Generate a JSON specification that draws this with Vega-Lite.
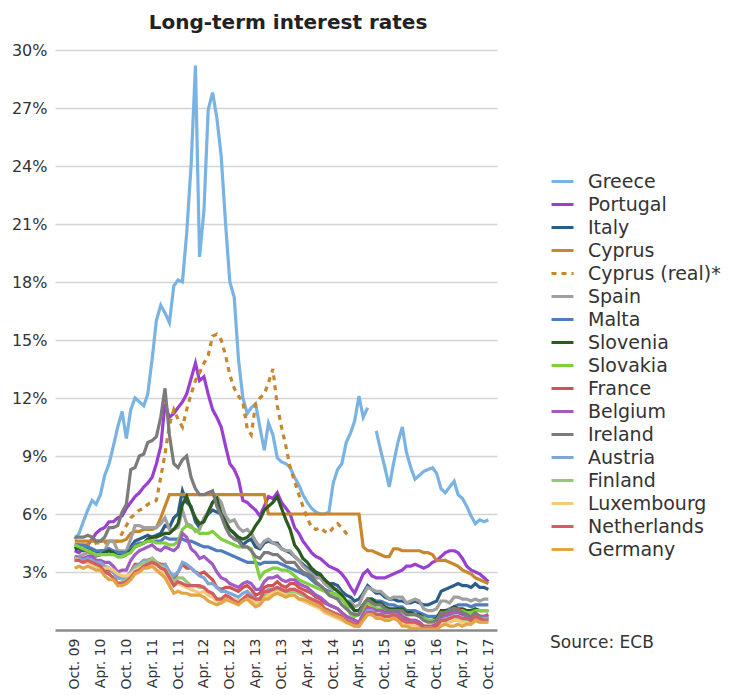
{"$schema":"https://vega.github.io/schema/vega-lite/v6.json","width":442,"height":580,"autosize":{"type":"none"},"padding":{"left":55,"top":50,"right":238,"bottom":65},"background":"white","title":{"text":"Long-term interest rates","fontSize":20,"fontWeight":"bold","font":"DejaVu Sans","color":"#222","offset":9,"dx":12},"config":{"view":{"stroke":null},"font":"DejaVu Sans"},
"data":{"values":[
{"c":"Greece","d":"2009-10","v":4.7},{"c":"Greece","d":"2009-11","v":5.0},{"c":"Greece","d":"2009-12","v":5.6},
{"c":"Greece","d":"2010-01","v":6.2},{"c":"Greece","d":"2010-02","v":6.7},{"c":"Greece","d":"2010-03","v":6.5},{"c":"Greece","d":"2010-04","v":7.0},{"c":"Greece","d":"2010-05","v":8.0},{"c":"Greece","d":"2010-06","v":8.6},{"c":"Greece","d":"2010-07","v":9.5},{"c":"Greece","d":"2010-08","v":10.5},{"c":"Greece","d":"2010-09","v":11.3},{"c":"Greece","d":"2010-10","v":9.9},{"c":"Greece","d":"2010-11","v":11.4},{"c":"Greece","d":"2010-12","v":12.0},
{"c":"Greece","d":"2011-01","v":11.8},{"c":"Greece","d":"2011-02","v":11.6},{"c":"Greece","d":"2011-03","v":12.2},{"c":"Greece","d":"2011-04","v":14.0},{"c":"Greece","d":"2011-05","v":16.0},{"c":"Greece","d":"2011-06","v":16.8},{"c":"Greece","d":"2011-07","v":16.4},{"c":"Greece","d":"2011-08","v":15.9},{"c":"Greece","d":"2011-09","v":17.8},{"c":"Greece","d":"2011-10","v":18.1},{"c":"Greece","d":"2011-11","v":18.0},{"c":"Greece","d":"2011-12","v":20.5},
{"c":"Greece","d":"2012-01","v":24.0},{"c":"Greece","d":"2012-02","v":29.2},{"c":"Greece","d":"2012-03","v":19.3},{"c":"Greece","d":"2012-04","v":21.7},{"c":"Greece","d":"2012-05","v":26.9},{"c":"Greece","d":"2012-06","v":27.8},{"c":"Greece","d":"2012-07","v":26.5},{"c":"Greece","d":"2012-08","v":24.5},{"c":"Greece","d":"2012-09","v":21.0},{"c":"Greece","d":"2012-10","v":18.0},{"c":"Greece","d":"2012-11","v":17.2},{"c":"Greece","d":"2012-12","v":14.0},
{"c":"Greece","d":"2013-01","v":12.0},{"c":"Greece","d":"2013-02","v":11.2},{"c":"Greece","d":"2013-03","v":11.5},{"c":"Greece","d":"2013-04","v":11.7},{"c":"Greece","d":"2013-05","v":10.5},{"c":"Greece","d":"2013-06","v":9.3},{"c":"Greece","d":"2013-07","v":10.7},{"c":"Greece","d":"2013-08","v":10.1},{"c":"Greece","d":"2013-09","v":8.9},{"c":"Greece","d":"2013-10","v":8.7},{"c":"Greece","d":"2013-11","v":8.6},{"c":"Greece","d":"2013-12","v":8.4},
{"c":"Greece","d":"2014-01","v":7.9},{"c":"Greece","d":"2014-02","v":7.5},{"c":"Greece","d":"2014-03","v":7.0},{"c":"Greece","d":"2014-04","v":6.6},{"c":"Greece","d":"2014-05","v":6.3},{"c":"Greece","d":"2014-06","v":6.1},{"c":"Greece","d":"2014-07","v":6.0},{"c":"Greece","d":"2014-08","v":6.0},{"c":"Greece","d":"2014-09","v":6.1},{"c":"Greece","d":"2014-10","v":7.6},{"c":"Greece","d":"2014-11","v":8.3},{"c":"Greece","d":"2014-12","v":8.6},
{"c":"Greece","d":"2015-01","v":9.7},{"c":"Greece","d":"2015-02","v":10.2},{"c":"Greece","d":"2015-03","v":10.8},{"c":"Greece","d":"2015-04","v":12.1},{"c":"Greece","d":"2015-05","v":11.0},{"c":"Greece","d":"2015-06","v":11.5},{"c":"Greece","d":"2015-07","v":null},{"c":"Greece","d":"2015-08","v":10.3},{"c":"Greece","d":"2015-09","v":9.3},{"c":"Greece","d":"2015-10","v":8.4},{"c":"Greece","d":"2015-11","v":7.4},{"c":"Greece","d":"2015-12","v":8.6},
{"c":"Greece","d":"2016-01","v":9.7},{"c":"Greece","d":"2016-02","v":10.5},{"c":"Greece","d":"2016-03","v":9.2},{"c":"Greece","d":"2016-04","v":8.4},{"c":"Greece","d":"2016-05","v":7.8},{"c":"Greece","d":"2016-06","v":8.0},{"c":"Greece","d":"2016-07","v":8.2},{"c":"Greece","d":"2016-08","v":8.3},{"c":"Greece","d":"2016-09","v":8.4},{"c":"Greece","d":"2016-10","v":8.1},{"c":"Greece","d":"2016-11","v":7.3},{"c":"Greece","d":"2016-12","v":7.1},
{"c":"Greece","d":"2017-01","v":7.4},{"c":"Greece","d":"2017-02","v":7.7},{"c":"Greece","d":"2017-03","v":7.0},{"c":"Greece","d":"2017-04","v":6.8},{"c":"Greece","d":"2017-05","v":6.4},{"c":"Greece","d":"2017-06","v":5.9},{"c":"Greece","d":"2017-07","v":5.5},{"c":"Greece","d":"2017-08","v":5.7},{"c":"Greece","d":"2017-09","v":5.6},{"c":"Greece","d":"2017-10","v":5.7},
{"c":"Portugal","d":"2009-10","v":4.1},{"c":"Portugal","d":"2009-11","v":4.0},{"c":"Portugal","d":"2009-12","v":4.2},
{"c":"Portugal","d":"2010-01","v":4.4},{"c":"Portugal","d":"2010-02","v":4.7},{"c":"Portugal","d":"2010-03","v":5.0},{"c":"Portugal","d":"2010-04","v":5.2},{"c":"Portugal","d":"2010-05","v":5.3},{"c":"Portugal","d":"2010-06","v":5.6},{"c":"Portugal","d":"2010-07","v":5.6},{"c":"Portugal","d":"2010-08","v":5.8},{"c":"Portugal","d":"2010-09","v":5.9},{"c":"Portugal","d":"2010-10","v":6.3},{"c":"Portugal","d":"2010-11","v":6.6},{"c":"Portugal","d":"2010-12","v":6.9},
{"c":"Portugal","d":"2011-01","v":7.1},{"c":"Portugal","d":"2011-02","v":7.4},{"c":"Portugal","d":"2011-03","v":7.6},{"c":"Portugal","d":"2011-04","v":7.9},{"c":"Portugal","d":"2011-05","v":8.6},{"c":"Portugal","d":"2011-06","v":9.5},{"c":"Portugal","d":"2011-07","v":11.7},{"c":"Portugal","d":"2011-08","v":11.0},{"c":"Portugal","d":"2011-09","v":11.2},{"c":"Portugal","d":"2011-10","v":11.5},{"c":"Portugal","d":"2011-11","v":11.8},{"c":"Portugal","d":"2011-12","v":12.2},
{"c":"Portugal","d":"2012-01","v":13.0},{"c":"Portugal","d":"2012-02","v":13.8},{"c":"Portugal","d":"2012-03","v":12.9},{"c":"Portugal","d":"2012-04","v":13.1},{"c":"Portugal","d":"2012-05","v":12.2},{"c":"Portugal","d":"2012-06","v":11.4},{"c":"Portugal","d":"2012-07","v":11.0},{"c":"Portugal","d":"2012-08","v":10.5},{"c":"Portugal","d":"2012-09","v":9.5},{"c":"Portugal","d":"2012-10","v":8.6},{"c":"Portugal","d":"2012-11","v":8.3},{"c":"Portugal","d":"2012-12","v":7.8},
{"c":"Portugal","d":"2013-01","v":6.7},{"c":"Portugal","d":"2013-02","v":6.6},{"c":"Portugal","d":"2013-03","v":6.4},{"c":"Portugal","d":"2013-04","v":6.2},{"c":"Portugal","d":"2013-05","v":5.9},{"c":"Portugal","d":"2013-06","v":6.4},{"c":"Portugal","d":"2013-07","v":6.9},{"c":"Portugal","d":"2013-08","v":6.8},{"c":"Portugal","d":"2013-09","v":7.1},{"c":"Portugal","d":"2013-10","v":6.6},{"c":"Portugal","d":"2013-11","v":6.3},{"c":"Portugal","d":"2013-12","v":6.0},
{"c":"Portugal","d":"2014-01","v":5.3},{"c":"Portugal","d":"2014-02","v":5.0},{"c":"Portugal","d":"2014-03","v":4.6},{"c":"Portugal","d":"2014-04","v":4.3},{"c":"Portugal","d":"2014-05","v":4.0},{"c":"Portugal","d":"2014-06","v":3.8},{"c":"Portugal","d":"2014-07","v":3.7},{"c":"Portugal","d":"2014-08","v":3.5},{"c":"Portugal","d":"2014-09","v":3.3},{"c":"Portugal","d":"2014-10","v":3.2},{"c":"Portugal","d":"2014-11","v":3.1},{"c":"Portugal","d":"2014-12","v":2.9},
{"c":"Portugal","d":"2015-01","v":2.6},{"c":"Portugal","d":"2015-02","v":2.2},{"c":"Portugal","d":"2015-03","v":1.9},{"c":"Portugal","d":"2015-04","v":2.4},{"c":"Portugal","d":"2015-05","v":2.9},{"c":"Portugal","d":"2015-06","v":3.1},{"c":"Portugal","d":"2015-07","v":2.8},{"c":"Portugal","d":"2015-08","v":2.7},{"c":"Portugal","d":"2015-09","v":2.7},{"c":"Portugal","d":"2015-10","v":2.7},{"c":"Portugal","d":"2015-11","v":2.8},{"c":"Portugal","d":"2015-12","v":2.9},
{"c":"Portugal","d":"2016-01","v":3.0},{"c":"Portugal","d":"2016-02","v":3.1},{"c":"Portugal","d":"2016-03","v":3.3},{"c":"Portugal","d":"2016-04","v":3.3},{"c":"Portugal","d":"2016-05","v":3.4},{"c":"Portugal","d":"2016-06","v":3.3},{"c":"Portugal","d":"2016-07","v":3.2},{"c":"Portugal","d":"2016-08","v":3.3},{"c":"Portugal","d":"2016-09","v":3.5},{"c":"Portugal","d":"2016-10","v":3.6},{"c":"Portugal","d":"2016-11","v":3.8},{"c":"Portugal","d":"2016-12","v":4.0},
{"c":"Portugal","d":"2017-01","v":4.1},{"c":"Portugal","d":"2017-02","v":4.1},{"c":"Portugal","d":"2017-03","v":4.0},{"c":"Portugal","d":"2017-04","v":3.7},{"c":"Portugal","d":"2017-05","v":3.3},{"c":"Portugal","d":"2017-06","v":3.1},{"c":"Portugal","d":"2017-07","v":3.0},{"c":"Portugal","d":"2017-08","v":2.9},{"c":"Portugal","d":"2017-09","v":2.7},{"c":"Portugal","d":"2017-10","v":2.5},
{"c":"Italy","d":"2009-10","v":4.2},{"c":"Italy","d":"2009-11","v":4.2},{"c":"Italy","d":"2009-12","v":4.1},
{"c":"Italy","d":"2010-01","v":4.2},{"c":"Italy","d":"2010-02","v":4.1},{"c":"Italy","d":"2010-03","v":4.0},{"c":"Italy","d":"2010-04","v":4.1},{"c":"Italy","d":"2010-05","v":4.1},{"c":"Italy","d":"2010-06","v":4.2},{"c":"Italy","d":"2010-07","v":4.0},{"c":"Italy","d":"2010-08","v":3.9},{"c":"Italy","d":"2010-09","v":4.0},{"c":"Italy","d":"2010-10","v":4.0},{"c":"Italy","d":"2010-11","v":4.3},{"c":"Italy","d":"2010-12","v":4.6},
{"c":"Italy","d":"2011-01","v":4.7},{"c":"Italy","d":"2011-02","v":4.8},{"c":"Italy","d":"2011-03","v":4.9},{"c":"Italy","d":"2011-04","v":4.8},{"c":"Italy","d":"2011-05","v":4.9},{"c":"Italy","d":"2011-06","v":5.0},{"c":"Italy","d":"2011-07","v":5.4},{"c":"Italy","d":"2011-08","v":5.3},{"c":"Italy","d":"2011-09","v":5.8},{"c":"Italy","d":"2011-10","v":6.0},{"c":"Italy","d":"2011-11","v":7.2},{"c":"Italy","d":"2011-12","v":6.6},
{"c":"Italy","d":"2012-01","v":6.4},{"c":"Italy","d":"2012-02","v":5.6},{"c":"Italy","d":"2012-03","v":5.3},{"c":"Italy","d":"2012-04","v":5.7},{"c":"Italy","d":"2012-05","v":6.0},{"c":"Italy","d":"2012-06","v":6.2},{"c":"Italy","d":"2012-07","v":6.1},{"c":"Italy","d":"2012-08","v":6.0},{"c":"Italy","d":"2012-09","v":5.4},{"c":"Italy","d":"2012-10","v":5.2},{"c":"Italy","d":"2012-11","v":5.0},{"c":"Italy","d":"2012-12","v":4.7},
{"c":"Italy","d":"2013-01","v":4.4},{"c":"Italy","d":"2013-02","v":4.6},{"c":"Italy","d":"2013-03","v":4.7},{"c":"Italy","d":"2013-04","v":4.3},{"c":"Italy","d":"2013-05","v":4.2},{"c":"Italy","d":"2013-06","v":4.5},{"c":"Italy","d":"2013-07","v":4.6},{"c":"Italy","d":"2013-08","v":4.5},{"c":"Italy","d":"2013-09","v":4.5},{"c":"Italy","d":"2013-10","v":4.2},{"c":"Italy","d":"2013-11","v":4.1},{"c":"Italy","d":"2013-12","v":4.0},
{"c":"Italy","d":"2014-01","v":3.8},{"c":"Italy","d":"2014-02","v":3.6},{"c":"Italy","d":"2014-03","v":3.4},{"c":"Italy","d":"2014-04","v":3.2},{"c":"Italy","d":"2014-05","v":3.1},{"c":"Italy","d":"2014-06","v":2.9},{"c":"Italy","d":"2014-07","v":2.8},{"c":"Italy","d":"2014-08","v":2.6},{"c":"Italy","d":"2014-09","v":2.4},{"c":"Italy","d":"2014-10","v":2.4},{"c":"Italy","d":"2014-11","v":2.3},{"c":"Italy","d":"2014-12","v":2.0},
{"c":"Italy","d":"2015-01","v":1.8},{"c":"Italy","d":"2015-02","v":1.7},{"c":"Italy","d":"2015-03","v":1.5},{"c":"Italy","d":"2015-04","v":1.6},{"c":"Italy","d":"2015-05","v":1.9},{"c":"Italy","d":"2015-06","v":2.3},{"c":"Italy","d":"2015-07","v":2.1},{"c":"Italy","d":"2015-08","v":1.9},{"c":"Italy","d":"2015-09","v":1.9},{"c":"Italy","d":"2015-10","v":1.7},{"c":"Italy","d":"2015-11","v":1.6},{"c":"Italy","d":"2015-12","v":1.6},
{"c":"Italy","d":"2016-01","v":1.5},{"c":"Italy","d":"2016-02","v":1.5},{"c":"Italy","d":"2016-03","v":1.4},{"c":"Italy","d":"2016-04","v":1.4},{"c":"Italy","d":"2016-05","v":1.5},{"c":"Italy","d":"2016-06","v":1.4},{"c":"Italy","d":"2016-07","v":1.3},{"c":"Italy","d":"2016-08","v":1.3},{"c":"Italy","d":"2016-09","v":1.4},{"c":"Italy","d":"2016-10","v":1.5},{"c":"Italy","d":"2016-11","v":2.0},{"c":"Italy","d":"2016-12","v":2.1},
{"c":"Italy","d":"2017-01","v":2.2},{"c":"Italy","d":"2017-02","v":2.3},{"c":"Italy","d":"2017-03","v":2.4},{"c":"Italy","d":"2017-04","v":2.3},{"c":"Italy","d":"2017-05","v":2.3},{"c":"Italy","d":"2017-06","v":2.2},{"c":"Italy","d":"2017-07","v":2.4},{"c":"Italy","d":"2017-08","v":2.2},{"c":"Italy","d":"2017-09","v":2.2},{"c":"Italy","d":"2017-10","v":2.1},
{"c":"Cyprus","d":"2009-10","v":4.6},{"c":"Cyprus","d":"2009-11","v":4.6},{"c":"Cyprus","d":"2009-12","v":4.6},
{"c":"Cyprus","d":"2010-01","v":4.6},{"c":"Cyprus","d":"2010-02","v":4.6},{"c":"Cyprus","d":"2010-03","v":4.6},{"c":"Cyprus","d":"2010-04","v":4.6},{"c":"Cyprus","d":"2010-05","v":4.6},{"c":"Cyprus","d":"2010-06","v":4.6},{"c":"Cyprus","d":"2010-07","v":4.6},{"c":"Cyprus","d":"2010-08","v":4.6},{"c":"Cyprus","d":"2010-09","v":4.6},{"c":"Cyprus","d":"2010-10","v":4.7},{"c":"Cyprus","d":"2010-11","v":5.0},{"c":"Cyprus","d":"2010-12","v":5.1},
{"c":"Cyprus","d":"2011-01","v":5.1},{"c":"Cyprus","d":"2011-02","v":5.2},{"c":"Cyprus","d":"2011-03","v":5.2},{"c":"Cyprus","d":"2011-04","v":5.2},{"c":"Cyprus","d":"2011-05","v":5.3},{"c":"Cyprus","d":"2011-06","v":5.8},{"c":"Cyprus","d":"2011-07","v":6.4},{"c":"Cyprus","d":"2011-08","v":7.0},{"c":"Cyprus","d":"2011-09","v":7.0},{"c":"Cyprus","d":"2011-10","v":7.0},{"c":"Cyprus","d":"2011-11","v":7.0},{"c":"Cyprus","d":"2011-12","v":7.0},
{"c":"Cyprus","d":"2012-01","v":7.0},{"c":"Cyprus","d":"2012-02","v":7.0},{"c":"Cyprus","d":"2012-03","v":7.0},{"c":"Cyprus","d":"2012-04","v":7.0},{"c":"Cyprus","d":"2012-05","v":7.0},{"c":"Cyprus","d":"2012-06","v":7.0},{"c":"Cyprus","d":"2012-07","v":7.0},{"c":"Cyprus","d":"2012-08","v":7.0},{"c":"Cyprus","d":"2012-09","v":7.0},{"c":"Cyprus","d":"2012-10","v":7.0},{"c":"Cyprus","d":"2012-11","v":7.0},{"c":"Cyprus","d":"2012-12","v":7.0},
{"c":"Cyprus","d":"2013-01","v":7.0},{"c":"Cyprus","d":"2013-02","v":7.0},{"c":"Cyprus","d":"2013-03","v":7.0},{"c":"Cyprus","d":"2013-04","v":7.0},{"c":"Cyprus","d":"2013-05","v":7.0},{"c":"Cyprus","d":"2013-06","v":7.0},{"c":"Cyprus","d":"2013-07","v":6.0},{"c":"Cyprus","d":"2013-08","v":6.0},{"c":"Cyprus","d":"2013-09","v":6.0},{"c":"Cyprus","d":"2013-10","v":6.0},{"c":"Cyprus","d":"2013-11","v":6.0},{"c":"Cyprus","d":"2013-12","v":6.0},
{"c":"Cyprus","d":"2014-01","v":6.0},{"c":"Cyprus","d":"2014-02","v":6.0},{"c":"Cyprus","d":"2014-03","v":6.0},{"c":"Cyprus","d":"2014-04","v":6.0},{"c":"Cyprus","d":"2014-05","v":6.0},{"c":"Cyprus","d":"2014-06","v":6.0},{"c":"Cyprus","d":"2014-07","v":6.0},{"c":"Cyprus","d":"2014-08","v":6.0},{"c":"Cyprus","d":"2014-09","v":6.0},{"c":"Cyprus","d":"2014-10","v":6.0},{"c":"Cyprus","d":"2014-11","v":6.0},{"c":"Cyprus","d":"2014-12","v":6.0},
{"c":"Cyprus","d":"2015-01","v":6.0},{"c":"Cyprus","d":"2015-02","v":6.0},{"c":"Cyprus","d":"2015-03","v":6.0},{"c":"Cyprus","d":"2015-04","v":6.0},{"c":"Cyprus","d":"2015-05","v":4.3},{"c":"Cyprus","d":"2015-06","v":4.1},{"c":"Cyprus","d":"2015-07","v":4.1},{"c":"Cyprus","d":"2015-08","v":4.0},{"c":"Cyprus","d":"2015-09","v":3.9},{"c":"Cyprus","d":"2015-10","v":3.8},{"c":"Cyprus","d":"2015-11","v":3.8},{"c":"Cyprus","d":"2015-12","v":4.2},
{"c":"Cyprus","d":"2016-01","v":4.2},{"c":"Cyprus","d":"2016-02","v":4.1},{"c":"Cyprus","d":"2016-03","v":4.1},{"c":"Cyprus","d":"2016-04","v":4.1},{"c":"Cyprus","d":"2016-05","v":4.1},{"c":"Cyprus","d":"2016-06","v":4.1},{"c":"Cyprus","d":"2016-07","v":4.0},{"c":"Cyprus","d":"2016-08","v":4.0},{"c":"Cyprus","d":"2016-09","v":3.9},{"c":"Cyprus","d":"2016-10","v":3.6},{"c":"Cyprus","d":"2016-11","v":3.6},{"c":"Cyprus","d":"2016-12","v":3.6},
{"c":"Cyprus","d":"2017-01","v":3.5},{"c":"Cyprus","d":"2017-02","v":3.4},{"c":"Cyprus","d":"2017-03","v":3.3},{"c":"Cyprus","d":"2017-04","v":3.1},{"c":"Cyprus","d":"2017-05","v":3.0},{"c":"Cyprus","d":"2017-06","v":2.9},{"c":"Cyprus","d":"2017-07","v":2.7},{"c":"Cyprus","d":"2017-08","v":2.6},{"c":"Cyprus","d":"2017-09","v":2.5},{"c":"Cyprus","d":"2017-10","v":2.4},
{"c":"Cyprus (real)*","d":"2009-10","v":4.4},{"c":"Cyprus (real)*","d":"2009-11","v":4.4},{"c":"Cyprus (real)*","d":"2009-12","v":4.4},
{"c":"Cyprus (real)*","d":"2010-01","v":4.4},{"c":"Cyprus (real)*","d":"2010-02","v":4.4},{"c":"Cyprus (real)*","d":"2010-03","v":4.5},{"c":"Cyprus (real)*","d":"2010-04","v":4.5},{"c":"Cyprus (real)*","d":"2010-05","v":4.5},{"c":"Cyprus (real)*","d":"2010-06","v":4.5},{"c":"Cyprus (real)*","d":"2010-07","v":4.5},{"c":"Cyprus (real)*","d":"2010-08","v":4.6},{"c":"Cyprus (real)*","d":"2010-09","v":5.0},{"c":"Cyprus (real)*","d":"2010-10","v":5.4},{"c":"Cyprus (real)*","d":"2010-11","v":5.8},{"c":"Cyprus (real)*","d":"2010-12","v":6.0},
{"c":"Cyprus (real)*","d":"2011-01","v":6.2},{"c":"Cyprus (real)*","d":"2011-02","v":6.3},{"c":"Cyprus (real)*","d":"2011-03","v":6.5},{"c":"Cyprus (real)*","d":"2011-04","v":6.6},{"c":"Cyprus (real)*","d":"2011-05","v":6.7},{"c":"Cyprus (real)*","d":"2011-06","v":7.9},{"c":"Cyprus (real)*","d":"2011-07","v":9.1},{"c":"Cyprus (real)*","d":"2011-08","v":10.6},{"c":"Cyprus (real)*","d":"2011-09","v":11.4},{"c":"Cyprus (real)*","d":"2011-10","v":10.9},{"c":"Cyprus (real)*","d":"2011-11","v":10.5},{"c":"Cyprus (real)*","d":"2011-12","v":11.4},
{"c":"Cyprus (real)*","d":"2012-01","v":12.2},{"c":"Cyprus (real)*","d":"2012-02","v":12.9},{"c":"Cyprus (real)*","d":"2012-03","v":13.3},{"c":"Cyprus (real)*","d":"2012-04","v":13.8},{"c":"Cyprus (real)*","d":"2012-05","v":14.2},{"c":"Cyprus (real)*","d":"2012-06","v":15.2},{"c":"Cyprus (real)*","d":"2012-07","v":15.3},{"c":"Cyprus (real)*","d":"2012-08","v":15.0},{"c":"Cyprus (real)*","d":"2012-09","v":14.2},{"c":"Cyprus (real)*","d":"2012-10","v":13.2},{"c":"Cyprus (real)*","d":"2012-11","v":12.5},{"c":"Cyprus (real)*","d":"2012-12","v":12.1},
{"c":"Cyprus (real)*","d":"2013-01","v":11.8},{"c":"Cyprus (real)*","d":"2013-02","v":10.4},{"c":"Cyprus (real)*","d":"2013-03","v":10.1},{"c":"Cyprus (real)*","d":"2013-04","v":11.7},{"c":"Cyprus (real)*","d":"2013-05","v":12.0},{"c":"Cyprus (real)*","d":"2013-06","v":12.2},{"c":"Cyprus (real)*","d":"2013-07","v":12.8},{"c":"Cyprus (real)*","d":"2013-08","v":13.5},{"c":"Cyprus (real)*","d":"2013-09","v":11.6},{"c":"Cyprus (real)*","d":"2013-10","v":10.5},{"c":"Cyprus (real)*","d":"2013-11","v":9.5},{"c":"Cyprus (real)*","d":"2013-12","v":8.4},
{"c":"Cyprus (real)*","d":"2014-01","v":7.7},{"c":"Cyprus (real)*","d":"2014-02","v":7.0},{"c":"Cyprus (real)*","d":"2014-03","v":6.4},{"c":"Cyprus (real)*","d":"2014-04","v":5.8},{"c":"Cyprus (real)*","d":"2014-05","v":5.3},{"c":"Cyprus (real)*","d":"2014-06","v":5.2},{"c":"Cyprus (real)*","d":"2014-07","v":5.3},{"c":"Cyprus (real)*","d":"2014-08","v":5.1},{"c":"Cyprus (real)*","d":"2014-09","v":5.0},{"c":"Cyprus (real)*","d":"2014-10","v":5.3},{"c":"Cyprus (real)*","d":"2014-11","v":5.5},{"c":"Cyprus (real)*","d":"2014-12","v":5.3},
{"c":"Cyprus (real)*","d":"2015-01","v":5.0},{"c":"Cyprus (real)*","d":"2015-02","v":4.8},
{"c":"Spain","d":"2009-10","v":3.8},{"c":"Spain","d":"2009-11","v":3.8},{"c":"Spain","d":"2009-12","v":3.9},
{"c":"Spain","d":"2010-01","v":4.0},{"c":"Spain","d":"2010-02","v":3.9},{"c":"Spain","d":"2010-03","v":3.8},{"c":"Spain","d":"2010-04","v":3.9},{"c":"Spain","d":"2010-05","v":4.1},{"c":"Spain","d":"2010-06","v":4.6},{"c":"Spain","d":"2010-07","v":4.6},{"c":"Spain","d":"2010-08","v":4.1},{"c":"Spain","d":"2010-09","v":4.1},{"c":"Spain","d":"2010-10","v":4.1},{"c":"Spain","d":"2010-11","v":4.7},{"c":"Spain","d":"2010-12","v":5.4},
{"c":"Spain","d":"2011-01","v":5.4},{"c":"Spain","d":"2011-02","v":5.3},{"c":"Spain","d":"2011-03","v":5.3},{"c":"Spain","d":"2011-04","v":5.3},{"c":"Spain","d":"2011-05","v":5.3},{"c":"Spain","d":"2011-06","v":5.5},{"c":"Spain","d":"2011-07","v":5.8},{"c":"Spain","d":"2011-08","v":5.2},{"c":"Spain","d":"2011-09","v":5.2},{"c":"Spain","d":"2011-10","v":5.3},{"c":"Spain","d":"2011-11","v":6.2},{"c":"Spain","d":"2011-12","v":5.5},
{"c":"Spain","d":"2012-01","v":5.4},{"c":"Spain","d":"2012-02","v":5.1},{"c":"Spain","d":"2012-03","v":5.2},{"c":"Spain","d":"2012-04","v":5.8},{"c":"Spain","d":"2012-05","v":6.1},{"c":"Spain","d":"2012-06","v":6.6},{"c":"Spain","d":"2012-07","v":6.9},{"c":"Spain","d":"2012-08","v":6.6},{"c":"Spain","d":"2012-09","v":5.9},{"c":"Spain","d":"2012-10","v":5.6},{"c":"Spain","d":"2012-11","v":5.7},{"c":"Spain","d":"2012-12","v":5.3},
{"c":"Spain","d":"2013-01","v":5.1},{"c":"Spain","d":"2013-02","v":5.2},{"c":"Spain","d":"2013-03","v":5.0},{"c":"Spain","d":"2013-04","v":4.6},{"c":"Spain","d":"2013-05","v":4.3},{"c":"Spain","d":"2013-06","v":4.6},{"c":"Spain","d":"2013-07","v":4.7},{"c":"Spain","d":"2013-08","v":4.5},{"c":"Spain","d":"2013-09","v":4.4},{"c":"Spain","d":"2013-10","v":4.2},{"c":"Spain","d":"2013-11","v":4.1},{"c":"Spain","d":"2013-12","v":4.1},
{"c":"Spain","d":"2014-01","v":3.8},{"c":"Spain","d":"2014-02","v":3.6},{"c":"Spain","d":"2014-03","v":3.3},{"c":"Spain","d":"2014-04","v":3.1},{"c":"Spain","d":"2014-05","v":2.9},{"c":"Spain","d":"2014-06","v":2.7},{"c":"Spain","d":"2014-07","v":2.7},{"c":"Spain","d":"2014-08","v":2.4},{"c":"Spain","d":"2014-09","v":2.2},{"c":"Spain","d":"2014-10","v":2.1},{"c":"Spain","d":"2014-11","v":2.1},{"c":"Spain","d":"2014-12","v":1.8},
{"c":"Spain","d":"2015-01","v":1.5},{"c":"Spain","d":"2015-02","v":1.5},{"c":"Spain","d":"2015-03","v":1.2},{"c":"Spain","d":"2015-04","v":1.3},{"c":"Spain","d":"2015-05","v":1.8},{"c":"Spain","d":"2015-06","v":2.2},{"c":"Spain","d":"2015-07","v":2.1},{"c":"Spain","d":"2015-08","v":2.0},{"c":"Spain","d":"2015-09","v":2.0},{"c":"Spain","d":"2015-10","v":1.8},{"c":"Spain","d":"2015-11","v":1.6},{"c":"Spain","d":"2015-12","v":1.7},
{"c":"Spain","d":"2016-01","v":1.7},{"c":"Spain","d":"2016-02","v":1.7},{"c":"Spain","d":"2016-03","v":1.4},{"c":"Spain","d":"2016-04","v":1.5},{"c":"Spain","d":"2016-05","v":1.6},{"c":"Spain","d":"2016-06","v":1.5},{"c":"Spain","d":"2016-07","v":1.1},{"c":"Spain","d":"2016-08","v":1.0},{"c":"Spain","d":"2016-09","v":1.0},{"c":"Spain","d":"2016-10","v":1.1},{"c":"Spain","d":"2016-11","v":1.5},{"c":"Spain","d":"2016-12","v":1.5},
{"c":"Spain","d":"2017-01","v":1.4},{"c":"Spain","d":"2017-02","v":1.7},{"c":"Spain","d":"2017-03","v":1.7},{"c":"Spain","d":"2017-04","v":1.6},{"c":"Spain","d":"2017-05","v":1.6},{"c":"Spain","d":"2017-06","v":1.5},{"c":"Spain","d":"2017-07","v":1.6},{"c":"Spain","d":"2017-08","v":1.5},{"c":"Spain","d":"2017-09","v":1.6},{"c":"Spain","d":"2017-10","v":1.6},
{"c":"Malta","d":"2009-10","v":4.4},{"c":"Malta","d":"2009-11","v":4.4},{"c":"Malta","d":"2009-12","v":4.4},
{"c":"Malta","d":"2010-01","v":4.3},{"c":"Malta","d":"2010-02","v":4.2},{"c":"Malta","d":"2010-03","v":4.1},{"c":"Malta","d":"2010-04","v":4.1},{"c":"Malta","d":"2010-05","v":4.1},{"c":"Malta","d":"2010-06","v":4.2},{"c":"Malta","d":"2010-07","v":4.1},{"c":"Malta","d":"2010-08","v":4.0},{"c":"Malta","d":"2010-09","v":4.0},{"c":"Malta","d":"2010-10","v":4.0},{"c":"Malta","d":"2010-11","v":4.2},{"c":"Malta","d":"2010-12","v":4.4},
{"c":"Malta","d":"2011-01","v":4.5},{"c":"Malta","d":"2011-02","v":4.5},{"c":"Malta","d":"2011-03","v":4.6},{"c":"Malta","d":"2011-04","v":4.6},{"c":"Malta","d":"2011-05","v":4.6},{"c":"Malta","d":"2011-06","v":4.6},{"c":"Malta","d":"2011-07","v":4.8},{"c":"Malta","d":"2011-08","v":4.7},{"c":"Malta","d":"2011-09","v":4.7},{"c":"Malta","d":"2011-10","v":4.7},{"c":"Malta","d":"2011-11","v":4.7},{"c":"Malta","d":"2011-12","v":4.6},
{"c":"Malta","d":"2012-01","v":4.6},{"c":"Malta","d":"2012-02","v":4.5},{"c":"Malta","d":"2012-03","v":4.4},{"c":"Malta","d":"2012-04","v":4.3},{"c":"Malta","d":"2012-05","v":4.3},{"c":"Malta","d":"2012-06","v":4.2},{"c":"Malta","d":"2012-07","v":4.1},{"c":"Malta","d":"2012-08","v":4.1},{"c":"Malta","d":"2012-09","v":4.0},{"c":"Malta","d":"2012-10","v":3.9},{"c":"Malta","d":"2012-11","v":3.8},{"c":"Malta","d":"2012-12","v":3.7},
{"c":"Malta","d":"2013-01","v":3.6},{"c":"Malta","d":"2013-02","v":3.5},{"c":"Malta","d":"2013-03","v":3.5},{"c":"Malta","d":"2013-04","v":3.5},{"c":"Malta","d":"2013-05","v":3.4},{"c":"Malta","d":"2013-06","v":3.5},{"c":"Malta","d":"2013-07","v":3.5},{"c":"Malta","d":"2013-08","v":3.5},{"c":"Malta","d":"2013-09","v":3.5},{"c":"Malta","d":"2013-10","v":3.4},{"c":"Malta","d":"2013-11","v":3.3},{"c":"Malta","d":"2013-12","v":3.2},
{"c":"Malta","d":"2014-01","v":3.1},{"c":"Malta","d":"2014-02","v":3.0},{"c":"Malta","d":"2014-03","v":2.9},{"c":"Malta","d":"2014-04","v":2.8},{"c":"Malta","d":"2014-05","v":2.6},{"c":"Malta","d":"2014-06","v":2.4},{"c":"Malta","d":"2014-07","v":2.3},{"c":"Malta","d":"2014-08","v":2.1},{"c":"Malta","d":"2014-09","v":2.0},{"c":"Malta","d":"2014-10","v":1.9},{"c":"Malta","d":"2014-11","v":1.8},{"c":"Malta","d":"2014-12","v":1.6},
{"c":"Malta","d":"2015-01","v":1.4},{"c":"Malta","d":"2015-02","v":1.2},{"c":"Malta","d":"2015-03","v":1.0},{"c":"Malta","d":"2015-04","v":1.0},{"c":"Malta","d":"2015-05","v":1.3},{"c":"Malta","d":"2015-06","v":1.6},{"c":"Malta","d":"2015-07","v":1.6},{"c":"Malta","d":"2015-08","v":1.5},{"c":"Malta","d":"2015-09","v":1.5},{"c":"Malta","d":"2015-10","v":1.4},{"c":"Malta","d":"2015-11","v":1.3},{"c":"Malta","d":"2015-12","v":1.3},
{"c":"Malta","d":"2016-01","v":1.2},{"c":"Malta","d":"2016-02","v":1.2},{"c":"Malta","d":"2016-03","v":1.0},{"c":"Malta","d":"2016-04","v":1.0},{"c":"Malta","d":"2016-05","v":1.0},{"c":"Malta","d":"2016-06","v":0.9},{"c":"Malta","d":"2016-07","v":0.8},{"c":"Malta","d":"2016-08","v":0.7},{"c":"Malta","d":"2016-09","v":0.7},{"c":"Malta","d":"2016-10","v":0.7},{"c":"Malta","d":"2016-11","v":0.9},{"c":"Malta","d":"2016-12","v":1.0},
{"c":"Malta","d":"2017-01","v":1.1},{"c":"Malta","d":"2017-02","v":1.2},{"c":"Malta","d":"2017-03","v":1.3},{"c":"Malta","d":"2017-04","v":1.3},{"c":"Malta","d":"2017-05","v":1.3},{"c":"Malta","d":"2017-06","v":1.2},{"c":"Malta","d":"2017-07","v":1.3},{"c":"Malta","d":"2017-08","v":1.3},{"c":"Malta","d":"2017-09","v":1.3},{"c":"Malta","d":"2017-10","v":1.3},
{"c":"Slovenia","d":"2009-10","v":4.2},{"c":"Slovenia","d":"2009-11","v":4.3},{"c":"Slovenia","d":"2009-12","v":4.2},
{"c":"Slovenia","d":"2010-01","v":4.1},{"c":"Slovenia","d":"2010-02","v":4.0},{"c":"Slovenia","d":"2010-03","v":3.9},{"c":"Slovenia","d":"2010-04","v":3.9},{"c":"Slovenia","d":"2010-05","v":4.0},{"c":"Slovenia","d":"2010-06","v":4.1},{"c":"Slovenia","d":"2010-07","v":4.0},{"c":"Slovenia","d":"2010-08","v":3.8},{"c":"Slovenia","d":"2010-09","v":3.8},{"c":"Slovenia","d":"2010-10","v":3.9},{"c":"Slovenia","d":"2010-11","v":4.1},{"c":"Slovenia","d":"2010-12","v":4.3},
{"c":"Slovenia","d":"2011-01","v":4.4},{"c":"Slovenia","d":"2011-02","v":4.5},{"c":"Slovenia","d":"2011-03","v":4.7},{"c":"Slovenia","d":"2011-04","v":4.8},{"c":"Slovenia","d":"2011-05","v":4.8},{"c":"Slovenia","d":"2011-06","v":4.9},{"c":"Slovenia","d":"2011-07","v":5.0},{"c":"Slovenia","d":"2011-08","v":5.0},{"c":"Slovenia","d":"2011-09","v":5.2},{"c":"Slovenia","d":"2011-10","v":5.5},{"c":"Slovenia","d":"2011-11","v":6.5},{"c":"Slovenia","d":"2011-12","v":6.9},
{"c":"Slovenia","d":"2012-01","v":6.3},{"c":"Slovenia","d":"2012-02","v":5.8},{"c":"Slovenia","d":"2012-03","v":5.5},{"c":"Slovenia","d":"2012-04","v":5.6},{"c":"Slovenia","d":"2012-05","v":6.1},{"c":"Slovenia","d":"2012-06","v":6.6},{"c":"Slovenia","d":"2012-07","v":6.8},{"c":"Slovenia","d":"2012-08","v":6.0},{"c":"Slovenia","d":"2012-09","v":5.6},{"c":"Slovenia","d":"2012-10","v":5.2},{"c":"Slovenia","d":"2012-11","v":5.0},{"c":"Slovenia","d":"2012-12","v":4.8},
{"c":"Slovenia","d":"2013-01","v":4.7},{"c":"Slovenia","d":"2013-02","v":4.8},{"c":"Slovenia","d":"2013-03","v":5.0},{"c":"Slovenia","d":"2013-04","v":5.4},{"c":"Slovenia","d":"2013-05","v":5.7},{"c":"Slovenia","d":"2013-06","v":6.2},{"c":"Slovenia","d":"2013-07","v":6.4},{"c":"Slovenia","d":"2013-08","v":6.6},{"c":"Slovenia","d":"2013-09","v":6.9},{"c":"Slovenia","d":"2013-10","v":6.3},{"c":"Slovenia","d":"2013-11","v":5.7},{"c":"Slovenia","d":"2013-12","v":5.2},
{"c":"Slovenia","d":"2014-01","v":4.4},{"c":"Slovenia","d":"2014-02","v":4.1},{"c":"Slovenia","d":"2014-03","v":3.7},{"c":"Slovenia","d":"2014-04","v":3.5},{"c":"Slovenia","d":"2014-05","v":3.2},{"c":"Slovenia","d":"2014-06","v":3.0},{"c":"Slovenia","d":"2014-07","v":2.9},{"c":"Slovenia","d":"2014-08","v":2.6},{"c":"Slovenia","d":"2014-09","v":2.4},{"c":"Slovenia","d":"2014-10","v":2.2},{"c":"Slovenia","d":"2014-11","v":2.0},{"c":"Slovenia","d":"2014-12","v":1.8},
{"c":"Slovenia","d":"2015-01","v":1.5},{"c":"Slovenia","d":"2015-02","v":1.3},{"c":"Slovenia","d":"2015-03","v":1.0},{"c":"Slovenia","d":"2015-04","v":1.0},{"c":"Slovenia","d":"2015-05","v":1.3},{"c":"Slovenia","d":"2015-06","v":1.6},{"c":"Slovenia","d":"2015-07","v":1.6},{"c":"Slovenia","d":"2015-08","v":1.4},{"c":"Slovenia","d":"2015-09","v":1.4},{"c":"Slovenia","d":"2015-10","v":1.2},{"c":"Slovenia","d":"2015-11","v":1.1},{"c":"Slovenia","d":"2015-12","v":1.1},
{"c":"Slovenia","d":"2016-01","v":1.1},{"c":"Slovenia","d":"2016-02","v":1.1},{"c":"Slovenia","d":"2016-03","v":0.9},{"c":"Slovenia","d":"2016-04","v":0.9},{"c":"Slovenia","d":"2016-05","v":0.8},{"c":"Slovenia","d":"2016-06","v":0.8},{"c":"Slovenia","d":"2016-07","v":0.6},{"c":"Slovenia","d":"2016-08","v":0.5},{"c":"Slovenia","d":"2016-09","v":0.5},{"c":"Slovenia","d":"2016-10","v":0.6},{"c":"Slovenia","d":"2016-11","v":1.0},{"c":"Slovenia","d":"2016-12","v":1.0},
{"c":"Slovenia","d":"2017-01","v":1.0},{"c":"Slovenia","d":"2017-02","v":1.2},{"c":"Slovenia","d":"2017-03","v":1.1},{"c":"Slovenia","d":"2017-04","v":1.1},{"c":"Slovenia","d":"2017-05","v":1.0},{"c":"Slovenia","d":"2017-06","v":1.0},{"c":"Slovenia","d":"2017-07","v":1.1},{"c":"Slovenia","d":"2017-08","v":1.0},{"c":"Slovenia","d":"2017-09","v":1.0},{"c":"Slovenia","d":"2017-10","v":1.0},
{"c":"Slovakia","d":"2009-10","v":4.4},{"c":"Slovakia","d":"2009-11","v":4.3},{"c":"Slovakia","d":"2009-12","v":4.2},
{"c":"Slovakia","d":"2010-01","v":4.1},{"c":"Slovakia","d":"2010-02","v":4.0},{"c":"Slovakia","d":"2010-03","v":3.9},{"c":"Slovakia","d":"2010-04","v":3.9},{"c":"Slovakia","d":"2010-05","v":3.9},{"c":"Slovakia","d":"2010-06","v":3.9},{"c":"Slovakia","d":"2010-07","v":3.9},{"c":"Slovakia","d":"2010-08","v":3.8},{"c":"Slovakia","d":"2010-09","v":3.8},{"c":"Slovakia","d":"2010-10","v":3.9},{"c":"Slovakia","d":"2010-11","v":4.0},{"c":"Slovakia","d":"2010-12","v":4.3},
{"c":"Slovakia","d":"2011-01","v":4.4},{"c":"Slovakia","d":"2011-02","v":4.5},{"c":"Slovakia","d":"2011-03","v":4.6},{"c":"Slovakia","d":"2011-04","v":4.6},{"c":"Slovakia","d":"2011-05","v":4.5},{"c":"Slovakia","d":"2011-06","v":4.5},{"c":"Slovakia","d":"2011-07","v":4.5},{"c":"Slovakia","d":"2011-08","v":4.4},{"c":"Slovakia","d":"2011-09","v":4.4},{"c":"Slovakia","d":"2011-10","v":4.6},{"c":"Slovakia","d":"2011-11","v":5.2},{"c":"Slovakia","d":"2011-12","v":5.4},
{"c":"Slovakia","d":"2012-01","v":5.3},{"c":"Slovakia","d":"2012-02","v":5.2},{"c":"Slovakia","d":"2012-03","v":5.0},{"c":"Slovakia","d":"2012-04","v":5.0},{"c":"Slovakia","d":"2012-05","v":5.0},{"c":"Slovakia","d":"2012-06","v":5.1},{"c":"Slovakia","d":"2012-07","v":4.9},{"c":"Slovakia","d":"2012-08","v":4.7},{"c":"Slovakia","d":"2012-09","v":4.6},{"c":"Slovakia","d":"2012-10","v":4.5},{"c":"Slovakia","d":"2012-11","v":4.4},{"c":"Slovakia","d":"2012-12","v":4.3},
{"c":"Slovakia","d":"2013-01","v":4.3},{"c":"Slovakia","d":"2013-02","v":4.3},{"c":"Slovakia","d":"2013-03","v":4.2},{"c":"Slovakia","d":"2013-04","v":3.5},{"c":"Slovakia","d":"2013-05","v":2.7},{"c":"Slovakia","d":"2013-06","v":3.0},{"c":"Slovakia","d":"2013-07","v":3.1},{"c":"Slovakia","d":"2013-08","v":3.2},{"c":"Slovakia","d":"2013-09","v":3.2},{"c":"Slovakia","d":"2013-10","v":3.1},{"c":"Slovakia","d":"2013-11","v":3.1},{"c":"Slovakia","d":"2013-12","v":3.0},
{"c":"Slovakia","d":"2014-01","v":2.8},{"c":"Slovakia","d":"2014-02","v":2.6},{"c":"Slovakia","d":"2014-03","v":2.5},{"c":"Slovakia","d":"2014-04","v":2.4},{"c":"Slovakia","d":"2014-05","v":2.3},{"c":"Slovakia","d":"2014-06","v":2.2},{"c":"Slovakia","d":"2014-07","v":2.1},{"c":"Slovakia","d":"2014-08","v":2.0},{"c":"Slovakia","d":"2014-09","v":1.9},{"c":"Slovakia","d":"2014-10","v":1.9},{"c":"Slovakia","d":"2014-11","v":1.8},{"c":"Slovakia","d":"2014-12","v":1.6},
{"c":"Slovakia","d":"2015-01","v":1.3},{"c":"Slovakia","d":"2015-02","v":0.8},{"c":"Slovakia","d":"2015-03","v":0.7},{"c":"Slovakia","d":"2015-04","v":0.8},{"c":"Slovakia","d":"2015-05","v":1.1},{"c":"Slovakia","d":"2015-06","v":1.4},{"c":"Slovakia","d":"2015-07","v":1.3},{"c":"Slovakia","d":"2015-08","v":1.1},{"c":"Slovakia","d":"2015-09","v":1.1},{"c":"Slovakia","d":"2015-10","v":1.0},{"c":"Slovakia","d":"2015-11","v":0.9},{"c":"Slovakia","d":"2015-12","v":0.9},
{"c":"Slovakia","d":"2016-01","v":0.9},{"c":"Slovakia","d":"2016-02","v":0.9},{"c":"Slovakia","d":"2016-03","v":0.8},{"c":"Slovakia","d":"2016-04","v":0.8},{"c":"Slovakia","d":"2016-05","v":0.8},{"c":"Slovakia","d":"2016-06","v":0.7},{"c":"Slovakia","d":"2016-07","v":0.6},{"c":"Slovakia","d":"2016-08","v":0.5},{"c":"Slovakia","d":"2016-09","v":0.5},{"c":"Slovakia","d":"2016-10","v":0.5},{"c":"Slovakia","d":"2016-11","v":0.8},{"c":"Slovakia","d":"2016-12","v":0.9},
{"c":"Slovakia","d":"2017-01","v":1.0},{"c":"Slovakia","d":"2017-02","v":1.1},{"c":"Slovakia","d":"2017-03","v":1.0},{"c":"Slovakia","d":"2017-04","v":1.0},{"c":"Slovakia","d":"2017-05","v":0.9},{"c":"Slovakia","d":"2017-06","v":0.9},{"c":"Slovakia","d":"2017-07","v":1.0},{"c":"Slovakia","d":"2017-08","v":1.0},{"c":"Slovakia","d":"2017-09","v":1.0},{"c":"Slovakia","d":"2017-10","v":1.0},
{"c":"France","d":"2009-10","v":3.6},{"c":"France","d":"2009-11","v":3.6},{"c":"France","d":"2009-12","v":3.5},
{"c":"France","d":"2010-01","v":3.6},{"c":"France","d":"2010-02","v":3.5},{"c":"France","d":"2010-03","v":3.5},{"c":"France","d":"2010-04","v":3.4},{"c":"France","d":"2010-05","v":3.1},{"c":"France","d":"2010-06","v":3.1},{"c":"France","d":"2010-07","v":3.0},{"c":"France","d":"2010-08","v":2.7},{"c":"France","d":"2010-09","v":2.7},{"c":"France","d":"2010-10","v":2.7},{"c":"France","d":"2010-11","v":3.0},{"c":"France","d":"2010-12","v":3.4},
{"c":"France","d":"2011-01","v":3.4},{"c":"France","d":"2011-02","v":3.6},{"c":"France","d":"2011-03","v":3.6},{"c":"France","d":"2011-04","v":3.7},{"c":"France","d":"2011-05","v":3.5},{"c":"France","d":"2011-06","v":3.4},{"c":"France","d":"2011-07","v":3.4},{"c":"France","d":"2011-08","v":3.0},{"c":"France","d":"2011-09","v":2.6},{"c":"France","d":"2011-10","v":3.0},{"c":"France","d":"2011-11","v":3.4},{"c":"France","d":"2011-12","v":3.2},
{"c":"France","d":"2012-01","v":3.2},{"c":"France","d":"2012-02","v":3.0},{"c":"France","d":"2012-03","v":2.9},{"c":"France","d":"2012-04","v":3.0},{"c":"France","d":"2012-05","v":2.8},{"c":"France","d":"2012-06","v":2.6},{"c":"France","d":"2012-07","v":2.2},{"c":"France","d":"2012-08","v":2.1},{"c":"France","d":"2012-09","v":2.2},{"c":"France","d":"2012-10","v":2.2},{"c":"France","d":"2012-11","v":2.1},{"c":"France","d":"2012-12","v":2.0},
{"c":"France","d":"2013-01","v":2.2},{"c":"France","d":"2013-02","v":2.3},{"c":"France","d":"2013-03","v":2.1},{"c":"France","d":"2013-04","v":1.8},{"c":"France","d":"2013-05","v":1.9},{"c":"France","d":"2013-06","v":2.2},{"c":"France","d":"2013-07","v":2.3},{"c":"France","d":"2013-08","v":2.3},{"c":"France","d":"2013-09","v":2.5},{"c":"France","d":"2013-10","v":2.3},{"c":"France","d":"2013-11","v":2.2},{"c":"France","d":"2013-12","v":2.4},
{"c":"France","d":"2014-01","v":2.4},{"c":"France","d":"2014-02","v":2.2},{"c":"France","d":"2014-03","v":2.1},{"c":"France","d":"2014-04","v":2.0},{"c":"France","d":"2014-05","v":1.9},{"c":"France","d":"2014-06","v":1.7},{"c":"France","d":"2014-07","v":1.6},{"c":"France","d":"2014-08","v":1.4},{"c":"France","d":"2014-09","v":1.3},{"c":"France","d":"2014-10","v":1.2},{"c":"France","d":"2014-11","v":1.1},{"c":"France","d":"2014-12","v":0.9},
{"c":"France","d":"2015-01","v":0.7},{"c":"France","d":"2015-02","v":0.6},{"c":"France","d":"2015-03","v":0.5},{"c":"France","d":"2015-04","v":0.4},{"c":"France","d":"2015-05","v":0.8},{"c":"France","d":"2015-06","v":1.2},{"c":"France","d":"2015-07","v":1.1},{"c":"France","d":"2015-08","v":1.0},{"c":"France","d":"2015-09","v":1.0},{"c":"France","d":"2015-10","v":0.9},{"c":"France","d":"2015-11","v":0.9},{"c":"France","d":"2015-12","v":1.0},
{"c":"France","d":"2016-01","v":0.9},{"c":"France","d":"2016-02","v":0.7},{"c":"France","d":"2016-03","v":0.6},{"c":"France","d":"2016-04","v":0.5},{"c":"France","d":"2016-05","v":0.5},{"c":"France","d":"2016-06","v":0.4},{"c":"France","d":"2016-07","v":0.2},{"c":"France","d":"2016-08","v":0.2},{"c":"France","d":"2016-09","v":0.2},{"c":"France","d":"2016-10","v":0.3},{"c":"France","d":"2016-11","v":0.7},{"c":"France","d":"2016-12","v":0.8},
{"c":"France","d":"2017-01","v":0.9},{"c":"France","d":"2017-02","v":1.1},{"c":"France","d":"2017-03","v":1.1},{"c":"France","d":"2017-04","v":0.9},{"c":"France","d":"2017-05","v":0.8},{"c":"France","d":"2017-06","v":0.6},{"c":"France","d":"2017-07","v":0.8},{"c":"France","d":"2017-08","v":0.7},{"c":"France","d":"2017-09","v":0.7},{"c":"France","d":"2017-10","v":0.8},
{"c":"Belgium","d":"2009-10","v":3.8},{"c":"Belgium","d":"2009-11","v":3.7},{"c":"Belgium","d":"2009-12","v":3.7},
{"c":"Belgium","d":"2010-01","v":3.8},{"c":"Belgium","d":"2010-02","v":3.8},{"c":"Belgium","d":"2010-03","v":3.6},{"c":"Belgium","d":"2010-04","v":3.6},{"c":"Belgium","d":"2010-05","v":3.5},{"c":"Belgium","d":"2010-06","v":3.5},{"c":"Belgium","d":"2010-07","v":3.3},{"c":"Belgium","d":"2010-08","v":3.0},{"c":"Belgium","d":"2010-09","v":3.1},{"c":"Belgium","d":"2010-10","v":3.1},{"c":"Belgium","d":"2010-11","v":3.6},{"c":"Belgium","d":"2010-12","v":3.9},
{"c":"Belgium","d":"2011-01","v":4.1},{"c":"Belgium","d":"2011-02","v":4.2},{"c":"Belgium","d":"2011-03","v":4.3},{"c":"Belgium","d":"2011-04","v":4.4},{"c":"Belgium","d":"2011-05","v":4.2},{"c":"Belgium","d":"2011-06","v":4.1},{"c":"Belgium","d":"2011-07","v":4.3},{"c":"Belgium","d":"2011-08","v":4.2},{"c":"Belgium","d":"2011-09","v":4.1},{"c":"Belgium","d":"2011-10","v":4.3},{"c":"Belgium","d":"2011-11","v":5.0},{"c":"Belgium","d":"2011-12","v":4.8},
{"c":"Belgium","d":"2012-01","v":4.2},{"c":"Belgium","d":"2012-02","v":4.0},{"c":"Belgium","d":"2012-03","v":3.7},{"c":"Belgium","d":"2012-04","v":3.8},{"c":"Belgium","d":"2012-05","v":3.6},{"c":"Belgium","d":"2012-06","v":3.4},{"c":"Belgium","d":"2012-07","v":3.0},{"c":"Belgium","d":"2012-08","v":2.7},{"c":"Belgium","d":"2012-09","v":2.6},{"c":"Belgium","d":"2012-10","v":2.4},{"c":"Belgium","d":"2012-11","v":2.3},{"c":"Belgium","d":"2012-12","v":2.2},
{"c":"Belgium","d":"2013-01","v":2.4},{"c":"Belgium","d":"2013-02","v":2.5},{"c":"Belgium","d":"2013-03","v":2.4},{"c":"Belgium","d":"2013-04","v":2.1},{"c":"Belgium","d":"2013-05","v":2.1},{"c":"Belgium","d":"2013-06","v":2.5},{"c":"Belgium","d":"2013-07","v":2.7},{"c":"Belgium","d":"2013-08","v":2.7},{"c":"Belgium","d":"2013-09","v":2.8},{"c":"Belgium","d":"2013-10","v":2.6},{"c":"Belgium","d":"2013-11","v":2.5},{"c":"Belgium","d":"2013-12","v":2.6},
{"c":"Belgium","d":"2014-01","v":2.6},{"c":"Belgium","d":"2014-02","v":2.4},{"c":"Belgium","d":"2014-03","v":2.3},{"c":"Belgium","d":"2014-04","v":2.2},{"c":"Belgium","d":"2014-05","v":2.0},{"c":"Belgium","d":"2014-06","v":1.8},{"c":"Belgium","d":"2014-07","v":1.7},{"c":"Belgium","d":"2014-08","v":1.5},{"c":"Belgium","d":"2014-09","v":1.3},{"c":"Belgium","d":"2014-10","v":1.2},{"c":"Belgium","d":"2014-11","v":1.1},{"c":"Belgium","d":"2014-12","v":0.9},
{"c":"Belgium","d":"2015-01","v":0.7},{"c":"Belgium","d":"2015-02","v":0.6},{"c":"Belgium","d":"2015-03","v":0.5},{"c":"Belgium","d":"2015-04","v":0.4},{"c":"Belgium","d":"2015-05","v":0.8},{"c":"Belgium","d":"2015-06","v":1.1},{"c":"Belgium","d":"2015-07","v":1.1},{"c":"Belgium","d":"2015-08","v":1.0},{"c":"Belgium","d":"2015-09","v":1.0},{"c":"Belgium","d":"2015-10","v":0.9},{"c":"Belgium","d":"2015-11","v":0.9},{"c":"Belgium","d":"2015-12","v":1.0},
{"c":"Belgium","d":"2016-01","v":0.9},{"c":"Belgium","d":"2016-02","v":0.7},{"c":"Belgium","d":"2016-03","v":0.5},{"c":"Belgium","d":"2016-04","v":0.5},{"c":"Belgium","d":"2016-05","v":0.5},{"c":"Belgium","d":"2016-06","v":0.4},{"c":"Belgium","d":"2016-07","v":0.2},{"c":"Belgium","d":"2016-08","v":0.1},{"c":"Belgium","d":"2016-09","v":0.2},{"c":"Belgium","d":"2016-10","v":0.3},{"c":"Belgium","d":"2016-11","v":0.6},{"c":"Belgium","d":"2016-12","v":0.7},
{"c":"Belgium","d":"2017-01","v":0.8},{"c":"Belgium","d":"2017-02","v":0.9},{"c":"Belgium","d":"2017-03","v":0.9},{"c":"Belgium","d":"2017-04","v":0.8},{"c":"Belgium","d":"2017-05","v":0.7},{"c":"Belgium","d":"2017-06","v":0.6},{"c":"Belgium","d":"2017-07","v":0.8},{"c":"Belgium","d":"2017-08","v":0.7},{"c":"Belgium","d":"2017-09","v":0.7},{"c":"Belgium","d":"2017-10","v":0.7},
{"c":"Ireland","d":"2009-10","v":4.8},{"c":"Ireland","d":"2009-11","v":4.8},{"c":"Ireland","d":"2009-12","v":4.8},
{"c":"Ireland","d":"2010-01","v":4.9},{"c":"Ireland","d":"2010-02","v":4.8},{"c":"Ireland","d":"2010-03","v":4.6},{"c":"Ireland","d":"2010-04","v":4.6},{"c":"Ireland","d":"2010-05","v":4.8},{"c":"Ireland","d":"2010-06","v":5.3},{"c":"Ireland","d":"2010-07","v":5.3},{"c":"Ireland","d":"2010-08","v":5.4},{"c":"Ireland","d":"2010-09","v":6.1},{"c":"Ireland","d":"2010-10","v":6.5},{"c":"Ireland","d":"2010-11","v":8.3},{"c":"Ireland","d":"2010-12","v":8.4},
{"c":"Ireland","d":"2011-01","v":9.0},{"c":"Ireland","d":"2011-02","v":9.1},{"c":"Ireland","d":"2011-03","v":9.7},{"c":"Ireland","d":"2011-04","v":9.8},{"c":"Ireland","d":"2011-05","v":10.0},{"c":"Ireland","d":"2011-06","v":11.0},{"c":"Ireland","d":"2011-07","v":12.5},{"c":"Ireland","d":"2011-08","v":10.1},{"c":"Ireland","d":"2011-09","v":8.6},{"c":"Ireland","d":"2011-10","v":8.4},{"c":"Ireland","d":"2011-11","v":8.8},{"c":"Ireland","d":"2011-12","v":9.0},
{"c":"Ireland","d":"2012-01","v":7.9},{"c":"Ireland","d":"2012-02","v":7.3},{"c":"Ireland","d":"2012-03","v":7.0},{"c":"Ireland","d":"2012-04","v":7.0},{"c":"Ireland","d":"2012-05","v":7.1},{"c":"Ireland","d":"2012-06","v":7.2},{"c":"Ireland","d":"2012-07","v":6.4},{"c":"Ireland","d":"2012-08","v":5.9},{"c":"Ireland","d":"2012-09","v":5.3},{"c":"Ireland","d":"2012-10","v":4.9},{"c":"Ireland","d":"2012-11","v":4.7},{"c":"Ireland","d":"2012-12","v":4.6},
{"c":"Ireland","d":"2013-01","v":4.3},{"c":"Ireland","d":"2013-02","v":4.3},{"c":"Ireland","d":"2013-03","v":4.1},{"c":"Ireland","d":"2013-04","v":3.8},{"c":"Ireland","d":"2013-05","v":3.7},{"c":"Ireland","d":"2013-06","v":4.0},{"c":"Ireland","d":"2013-07","v":4.0},{"c":"Ireland","d":"2013-08","v":3.9},{"c":"Ireland","d":"2013-09","v":3.9},{"c":"Ireland","d":"2013-10","v":3.7},{"c":"Ireland","d":"2013-11","v":3.5},{"c":"Ireland","d":"2013-12","v":3.5},
{"c":"Ireland","d":"2014-01","v":3.5},{"c":"Ireland","d":"2014-02","v":3.2},{"c":"Ireland","d":"2014-03","v":3.0},{"c":"Ireland","d":"2014-04","v":2.9},{"c":"Ireland","d":"2014-05","v":2.8},{"c":"Ireland","d":"2014-06","v":2.5},{"c":"Ireland","d":"2014-07","v":2.3},{"c":"Ireland","d":"2014-08","v":2.1},{"c":"Ireland","d":"2014-09","v":1.8},{"c":"Ireland","d":"2014-10","v":1.7},{"c":"Ireland","d":"2014-11","v":1.6},{"c":"Ireland","d":"2014-12","v":1.3},
{"c":"Ireland","d":"2015-01","v":1.1},{"c":"Ireland","d":"2015-02","v":0.9},{"c":"Ireland","d":"2015-03","v":0.8},{"c":"Ireland","d":"2015-04","v":0.8},{"c":"Ireland","d":"2015-05","v":1.3},{"c":"Ireland","d":"2015-06","v":1.6},{"c":"Ireland","d":"2015-07","v":1.4},{"c":"Ireland","d":"2015-08","v":1.3},{"c":"Ireland","d":"2015-09","v":1.3},{"c":"Ireland","d":"2015-10","v":1.1},{"c":"Ireland","d":"2015-11","v":1.0},{"c":"Ireland","d":"2015-12","v":1.0},
{"c":"Ireland","d":"2016-01","v":1.0},{"c":"Ireland","d":"2016-02","v":1.0},{"c":"Ireland","d":"2016-03","v":0.8},{"c":"Ireland","d":"2016-04","v":0.8},{"c":"Ireland","d":"2016-05","v":0.8},{"c":"Ireland","d":"2016-06","v":0.7},{"c":"Ireland","d":"2016-07","v":0.5},{"c":"Ireland","d":"2016-08","v":0.4},{"c":"Ireland","d":"2016-09","v":0.4},{"c":"Ireland","d":"2016-10","v":0.5},{"c":"Ireland","d":"2016-11","v":0.9},{"c":"Ireland","d":"2016-12","v":0.9},
{"c":"Ireland","d":"2017-01","v":1.0},{"c":"Ireland","d":"2017-02","v":1.1},{"c":"Ireland","d":"2017-03","v":1.0},{"c":"Ireland","d":"2017-04","v":0.9},{"c":"Ireland","d":"2017-05","v":0.8},{"c":"Ireland","d":"2017-06","v":0.7},{"c":"Ireland","d":"2017-07","v":0.9},{"c":"Ireland","d":"2017-08","v":0.7},{"c":"Ireland","d":"2017-09","v":0.6},{"c":"Ireland","d":"2017-10","v":0.6},
{"c":"Austria","d":"2009-10","v":3.7},{"c":"Austria","d":"2009-11","v":3.7},{"c":"Austria","d":"2009-12","v":3.6},
{"c":"Austria","d":"2010-01","v":3.7},{"c":"Austria","d":"2010-02","v":3.6},{"c":"Austria","d":"2010-03","v":3.5},{"c":"Austria","d":"2010-04","v":3.5},{"c":"Austria","d":"2010-05","v":3.3},{"c":"Austria","d":"2010-06","v":3.2},{"c":"Austria","d":"2010-07","v":3.0},{"c":"Austria","d":"2010-08","v":2.7},{"c":"Austria","d":"2010-09","v":2.7},{"c":"Austria","d":"2010-10","v":2.7},{"c":"Austria","d":"2010-11","v":3.0},{"c":"Austria","d":"2010-12","v":3.3},
{"c":"Austria","d":"2011-01","v":3.4},{"c":"Austria","d":"2011-02","v":3.6},{"c":"Austria","d":"2011-03","v":3.6},{"c":"Austria","d":"2011-04","v":3.6},{"c":"Austria","d":"2011-05","v":3.4},{"c":"Austria","d":"2011-06","v":3.3},{"c":"Austria","d":"2011-07","v":3.4},{"c":"Austria","d":"2011-08","v":3.0},{"c":"Austria","d":"2011-09","v":2.8},{"c":"Austria","d":"2011-10","v":3.0},{"c":"Austria","d":"2011-11","v":3.5},{"c":"Austria","d":"2011-12","v":3.4},
{"c":"Austria","d":"2012-01","v":3.2},{"c":"Austria","d":"2012-02","v":3.0},{"c":"Austria","d":"2012-03","v":2.8},{"c":"Austria","d":"2012-04","v":2.7},{"c":"Austria","d":"2012-05","v":2.4},{"c":"Austria","d":"2012-06","v":2.4},{"c":"Austria","d":"2012-07","v":2.2},{"c":"Austria","d":"2012-08","v":2.0},{"c":"Austria","d":"2012-09","v":2.0},{"c":"Austria","d":"2012-10","v":1.9},{"c":"Austria","d":"2012-11","v":1.8},{"c":"Austria","d":"2012-12","v":1.7},
{"c":"Austria","d":"2013-01","v":1.9},{"c":"Austria","d":"2013-02","v":2.0},{"c":"Austria","d":"2013-03","v":1.8},{"c":"Austria","d":"2013-04","v":1.6},{"c":"Austria","d":"2013-05","v":1.6},{"c":"Austria","d":"2013-06","v":1.9},{"c":"Austria","d":"2013-07","v":2.1},{"c":"Austria","d":"2013-08","v":2.1},{"c":"Austria","d":"2013-09","v":2.2},{"c":"Austria","d":"2013-10","v":2.1},{"c":"Austria","d":"2013-11","v":2.0},{"c":"Austria","d":"2013-12","v":2.1},
{"c":"Austria","d":"2014-01","v":2.1},{"c":"Austria","d":"2014-02","v":1.9},{"c":"Austria","d":"2014-03","v":1.8},{"c":"Austria","d":"2014-04","v":1.7},{"c":"Austria","d":"2014-05","v":1.6},{"c":"Austria","d":"2014-06","v":1.5},{"c":"Austria","d":"2014-07","v":1.4},{"c":"Austria","d":"2014-08","v":1.1},{"c":"Austria","d":"2014-09","v":1.0},{"c":"Austria","d":"2014-10","v":0.9},{"c":"Austria","d":"2014-11","v":0.8},{"c":"Austria","d":"2014-12","v":0.7},
{"c":"Austria","d":"2015-01","v":0.5},{"c":"Austria","d":"2015-02","v":0.4},{"c":"Austria","d":"2015-03","v":0.3},{"c":"Austria","d":"2015-04","v":0.2},{"c":"Austria","d":"2015-05","v":0.6},{"c":"Austria","d":"2015-06","v":1.0},{"c":"Austria","d":"2015-07","v":1.0},{"c":"Austria","d":"2015-08","v":0.8},{"c":"Austria","d":"2015-09","v":0.8},{"c":"Austria","d":"2015-10","v":0.7},{"c":"Austria","d":"2015-11","v":0.7},{"c":"Austria","d":"2015-12","v":0.8},
{"c":"Austria","d":"2016-01","v":0.7},{"c":"Austria","d":"2016-02","v":0.5},{"c":"Austria","d":"2016-03","v":0.4},{"c":"Austria","d":"2016-04","v":0.4},{"c":"Austria","d":"2016-05","v":0.4},{"c":"Austria","d":"2016-06","v":0.3},{"c":"Austria","d":"2016-07","v":0.1},{"c":"Austria","d":"2016-08","v":0.1},{"c":"Austria","d":"2016-09","v":0.1},{"c":"Austria","d":"2016-10","v":0.2},{"c":"Austria","d":"2016-11","v":0.5},{"c":"Austria","d":"2016-12","v":0.6},
{"c":"Austria","d":"2017-01","v":0.6},{"c":"Austria","d":"2017-02","v":0.7},{"c":"Austria","d":"2017-03","v":0.7},{"c":"Austria","d":"2017-04","v":0.6},{"c":"Austria","d":"2017-05","v":0.6},{"c":"Austria","d":"2017-06","v":0.5},{"c":"Austria","d":"2017-07","v":0.7},{"c":"Austria","d":"2017-08","v":0.6},{"c":"Austria","d":"2017-09","v":0.6},{"c":"Austria","d":"2017-10","v":0.6},
{"c":"Finland","d":"2009-10","v":3.6},{"c":"Finland","d":"2009-11","v":3.6},{"c":"Finland","d":"2009-12","v":3.5},
{"c":"Finland","d":"2010-01","v":3.6},{"c":"Finland","d":"2010-02","v":3.5},{"c":"Finland","d":"2010-03","v":3.3},{"c":"Finland","d":"2010-04","v":3.2},{"c":"Finland","d":"2010-05","v":3.0},{"c":"Finland","d":"2010-06","v":2.9},{"c":"Finland","d":"2010-07","v":2.7},{"c":"Finland","d":"2010-08","v":2.4},{"c":"Finland","d":"2010-09","v":2.5},{"c":"Finland","d":"2010-10","v":2.6},{"c":"Finland","d":"2010-11","v":2.8},{"c":"Finland","d":"2010-12","v":3.2},
{"c":"Finland","d":"2011-01","v":3.3},{"c":"Finland","d":"2011-02","v":3.5},{"c":"Finland","d":"2011-03","v":3.5},{"c":"Finland","d":"2011-04","v":3.7},{"c":"Finland","d":"2011-05","v":3.5},{"c":"Finland","d":"2011-06","v":3.3},{"c":"Finland","d":"2011-07","v":3.2},{"c":"Finland","d":"2011-08","v":2.8},{"c":"Finland","d":"2011-09","v":2.5},{"c":"Finland","d":"2011-10","v":2.7},{"c":"Finland","d":"2011-11","v":2.7},{"c":"Finland","d":"2011-12","v":2.5},
{"c":"Finland","d":"2012-01","v":2.3},{"c":"Finland","d":"2012-02","v":2.3},{"c":"Finland","d":"2012-03","v":2.2},{"c":"Finland","d":"2012-04","v":2.2},{"c":"Finland","d":"2012-05","v":1.9},{"c":"Finland","d":"2012-06","v":1.8},{"c":"Finland","d":"2012-07","v":1.6},{"c":"Finland","d":"2012-08","v":1.6},{"c":"Finland","d":"2012-09","v":1.7},{"c":"Finland","d":"2012-10","v":1.6},{"c":"Finland","d":"2012-11","v":1.5},{"c":"Finland","d":"2012-12","v":1.4},
{"c":"Finland","d":"2013-01","v":1.6},{"c":"Finland","d":"2013-02","v":1.8},{"c":"Finland","d":"2013-03","v":1.6},{"c":"Finland","d":"2013-04","v":1.4},{"c":"Finland","d":"2013-05","v":1.4},{"c":"Finland","d":"2013-06","v":1.8},{"c":"Finland","d":"2013-07","v":1.9},{"c":"Finland","d":"2013-08","v":2.0},{"c":"Finland","d":"2013-09","v":2.1},{"c":"Finland","d":"2013-10","v":2.0},{"c":"Finland","d":"2013-11","v":1.9},{"c":"Finland","d":"2013-12","v":2.0},
{"c":"Finland","d":"2014-01","v":2.0},{"c":"Finland","d":"2014-02","v":1.9},{"c":"Finland","d":"2014-03","v":1.8},{"c":"Finland","d":"2014-04","v":1.7},{"c":"Finland","d":"2014-05","v":1.5},{"c":"Finland","d":"2014-06","v":1.4},{"c":"Finland","d":"2014-07","v":1.3},{"c":"Finland","d":"2014-08","v":1.1},{"c":"Finland","d":"2014-09","v":1.0},{"c":"Finland","d":"2014-10","v":0.9},{"c":"Finland","d":"2014-11","v":0.8},{"c":"Finland","d":"2014-12","v":0.7},
{"c":"Finland","d":"2015-01","v":0.5},{"c":"Finland","d":"2015-02","v":0.4},{"c":"Finland","d":"2015-03","v":0.2},{"c":"Finland","d":"2015-04","v":0.2},{"c":"Finland","d":"2015-05","v":0.6},{"c":"Finland","d":"2015-06","v":0.9},{"c":"Finland","d":"2015-07","v":0.9},{"c":"Finland","d":"2015-08","v":0.8},{"c":"Finland","d":"2015-09","v":0.8},{"c":"Finland","d":"2015-10","v":0.7},{"c":"Finland","d":"2015-11","v":0.7},{"c":"Finland","d":"2015-12","v":0.8},
{"c":"Finland","d":"2016-01","v":0.7},{"c":"Finland","d":"2016-02","v":0.5},{"c":"Finland","d":"2016-03","v":0.3},{"c":"Finland","d":"2016-04","v":0.3},{"c":"Finland","d":"2016-05","v":0.3},{"c":"Finland","d":"2016-06","v":0.2},{"c":"Finland","d":"2016-07","v":0.05},{"c":"Finland","d":"2016-08","v":0.05},{"c":"Finland","d":"2016-09","v":0.05},{"c":"Finland","d":"2016-10","v":0.1},{"c":"Finland","d":"2016-11","v":0.4},{"c":"Finland","d":"2016-12","v":0.5},
{"c":"Finland","d":"2017-01","v":0.6},{"c":"Finland","d":"2017-02","v":0.7},{"c":"Finland","d":"2017-03","v":0.6},{"c":"Finland","d":"2017-04","v":0.5},{"c":"Finland","d":"2017-05","v":0.5},{"c":"Finland","d":"2017-06","v":0.4},{"c":"Finland","d":"2017-07","v":0.6},{"c":"Finland","d":"2017-08","v":0.5},{"c":"Finland","d":"2017-09","v":0.5},{"c":"Finland","d":"2017-10","v":0.5},
{"c":"Luxembourg","d":"2009-10","v":3.7},{"c":"Luxembourg","d":"2009-11","v":3.6},{"c":"Luxembourg","d":"2009-12","v":3.5},
{"c":"Luxembourg","d":"2010-01","v":3.5},{"c":"Luxembourg","d":"2010-02","v":3.4},{"c":"Luxembourg","d":"2010-03","v":3.3},{"c":"Luxembourg","d":"2010-04","v":3.2},{"c":"Luxembourg","d":"2010-05","v":3.2},{"c":"Luxembourg","d":"2010-06","v":3.2},{"c":"Luxembourg","d":"2010-07","v":3.1},{"c":"Luxembourg","d":"2010-08","v":2.9},{"c":"Luxembourg","d":"2010-09","v":2.8},{"c":"Luxembourg","d":"2010-10","v":2.8},{"c":"Luxembourg","d":"2010-11","v":2.9},{"c":"Luxembourg","d":"2010-12","v":3.1},
{"c":"Luxembourg","d":"2011-01","v":3.2},{"c":"Luxembourg","d":"2011-02","v":3.3},{"c":"Luxembourg","d":"2011-03","v":3.3},{"c":"Luxembourg","d":"2011-04","v":3.4},{"c":"Luxembourg","d":"2011-05","v":3.1},{"c":"Luxembourg","d":"2011-06","v":3.0},{"c":"Luxembourg","d":"2011-07","v":2.9},{"c":"Luxembourg","d":"2011-08","v":2.6},{"c":"Luxembourg","d":"2011-09","v":2.3},{"c":"Luxembourg","d":"2011-10","v":2.4},{"c":"Luxembourg","d":"2011-11","v":2.3},{"c":"Luxembourg","d":"2011-12","v":2.2},
{"c":"Luxembourg","d":"2012-01","v":2.1},{"c":"Luxembourg","d":"2012-02","v":2.0},{"c":"Luxembourg","d":"2012-03","v":1.9},{"c":"Luxembourg","d":"2012-04","v":2.0},{"c":"Luxembourg","d":"2012-05","v":1.8},{"c":"Luxembourg","d":"2012-06","v":1.7},{"c":"Luxembourg","d":"2012-07","v":1.5},{"c":"Luxembourg","d":"2012-08","v":1.4},{"c":"Luxembourg","d":"2012-09","v":1.5},{"c":"Luxembourg","d":"2012-10","v":1.6},{"c":"Luxembourg","d":"2012-11","v":1.6},{"c":"Luxembourg","d":"2012-12","v":1.5},
{"c":"Luxembourg","d":"2013-01","v":1.6},{"c":"Luxembourg","d":"2013-02","v":1.7},{"c":"Luxembourg","d":"2013-03","v":1.6},{"c":"Luxembourg","d":"2013-04","v":1.4},{"c":"Luxembourg","d":"2013-05","v":1.4},{"c":"Luxembourg","d":"2013-06","v":1.6},{"c":"Luxembourg","d":"2013-07","v":1.8},{"c":"Luxembourg","d":"2013-08","v":1.9},{"c":"Luxembourg","d":"2013-09","v":2.0},{"c":"Luxembourg","d":"2013-10","v":1.9},{"c":"Luxembourg","d":"2013-11","v":1.8},{"c":"Luxembourg","d":"2013-12","v":1.8},
{"c":"Luxembourg","d":"2014-01","v":1.8},{"c":"Luxembourg","d":"2014-02","v":1.6},{"c":"Luxembourg","d":"2014-03","v":1.5},{"c":"Luxembourg","d":"2014-04","v":1.4},{"c":"Luxembourg","d":"2014-05","v":1.3},{"c":"Luxembourg","d":"2014-06","v":1.2},{"c":"Luxembourg","d":"2014-07","v":1.1},{"c":"Luxembourg","d":"2014-08","v":0.9},{"c":"Luxembourg","d":"2014-09","v":0.8},{"c":"Luxembourg","d":"2014-10","v":0.7},{"c":"Luxembourg","d":"2014-11","v":0.6},{"c":"Luxembourg","d":"2014-12","v":0.5},
{"c":"Luxembourg","d":"2015-01","v":0.4},{"c":"Luxembourg","d":"2015-02","v":0.3},{"c":"Luxembourg","d":"2015-03","v":0.2},{"c":"Luxembourg","d":"2015-04","v":0.2},{"c":"Luxembourg","d":"2015-05","v":0.5},{"c":"Luxembourg","d":"2015-06","v":0.8},{"c":"Luxembourg","d":"2015-07","v":0.8},{"c":"Luxembourg","d":"2015-08","v":0.7},{"c":"Luxembourg","d":"2015-09","v":0.7},{"c":"Luxembourg","d":"2015-10","v":0.6},{"c":"Luxembourg","d":"2015-11","v":0.6},{"c":"Luxembourg","d":"2015-12","v":0.6},
{"c":"Luxembourg","d":"2016-01","v":0.6},{"c":"Luxembourg","d":"2016-02","v":0.4},{"c":"Luxembourg","d":"2016-03","v":0.3},{"c":"Luxembourg","d":"2016-04","v":0.3},{"c":"Luxembourg","d":"2016-05","v":0.3},{"c":"Luxembourg","d":"2016-06","v":0.2},{"c":"Luxembourg","d":"2016-07","v":0.1},{"c":"Luxembourg","d":"2016-08","v":0.1},{"c":"Luxembourg","d":"2016-09","v":0.1},{"c":"Luxembourg","d":"2016-10","v":0.1},{"c":"Luxembourg","d":"2016-11","v":0.3},{"c":"Luxembourg","d":"2016-12","v":0.4},
{"c":"Luxembourg","d":"2017-01","v":0.4},{"c":"Luxembourg","d":"2017-02","v":0.5},{"c":"Luxembourg","d":"2017-03","v":0.5},{"c":"Luxembourg","d":"2017-04","v":0.4},{"c":"Luxembourg","d":"2017-05","v":0.4},{"c":"Luxembourg","d":"2017-06","v":0.3},{"c":"Luxembourg","d":"2017-07","v":0.5},{"c":"Luxembourg","d":"2017-08","v":0.4},{"c":"Luxembourg","d":"2017-09","v":0.4},{"c":"Luxembourg","d":"2017-10","v":0.4},
{"c":"Netherlands","d":"2009-10","v":3.6},{"c":"Netherlands","d":"2009-11","v":3.6},{"c":"Netherlands","d":"2009-12","v":3.5},
{"c":"Netherlands","d":"2010-01","v":3.6},{"c":"Netherlands","d":"2010-02","v":3.5},{"c":"Netherlands","d":"2010-03","v":3.4},{"c":"Netherlands","d":"2010-04","v":3.3},{"c":"Netherlands","d":"2010-05","v":3.0},{"c":"Netherlands","d":"2010-06","v":2.9},{"c":"Netherlands","d":"2010-07","v":2.7},{"c":"Netherlands","d":"2010-08","v":2.4},{"c":"Netherlands","d":"2010-09","v":2.4},{"c":"Netherlands","d":"2010-10","v":2.5},{"c":"Netherlands","d":"2010-11","v":2.7},{"c":"Netherlands","d":"2010-12","v":3.0},
{"c":"Netherlands","d":"2011-01","v":3.1},{"c":"Netherlands","d":"2011-02","v":3.3},{"c":"Netherlands","d":"2011-03","v":3.4},{"c":"Netherlands","d":"2011-04","v":3.5},{"c":"Netherlands","d":"2011-05","v":3.4},{"c":"Netherlands","d":"2011-06","v":3.2},{"c":"Netherlands","d":"2011-07","v":3.1},{"c":"Netherlands","d":"2011-08","v":2.7},{"c":"Netherlands","d":"2011-09","v":2.3},{"c":"Netherlands","d":"2011-10","v":2.5},{"c":"Netherlands","d":"2011-11","v":2.4},{"c":"Netherlands","d":"2011-12","v":2.3},
{"c":"Netherlands","d":"2012-01","v":2.3},{"c":"Netherlands","d":"2012-02","v":2.3},{"c":"Netherlands","d":"2012-03","v":2.3},{"c":"Netherlands","d":"2012-04","v":2.2},{"c":"Netherlands","d":"2012-05","v":2.0},{"c":"Netherlands","d":"2012-06","v":1.9},{"c":"Netherlands","d":"2012-07","v":1.6},{"c":"Netherlands","d":"2012-08","v":1.6},{"c":"Netherlands","d":"2012-09","v":1.8},{"c":"Netherlands","d":"2012-10","v":1.7},{"c":"Netherlands","d":"2012-11","v":1.5},{"c":"Netherlands","d":"2012-12","v":1.4},
{"c":"Netherlands","d":"2013-01","v":1.6},{"c":"Netherlands","d":"2013-02","v":1.8},{"c":"Netherlands","d":"2013-03","v":1.7},{"c":"Netherlands","d":"2013-04","v":1.6},{"c":"Netherlands","d":"2013-05","v":1.6},{"c":"Netherlands","d":"2013-06","v":2.0},{"c":"Netherlands","d":"2013-07","v":2.0},{"c":"Netherlands","d":"2013-08","v":2.1},{"c":"Netherlands","d":"2013-09","v":2.2},{"c":"Netherlands","d":"2013-10","v":2.1},{"c":"Netherlands","d":"2013-11","v":2.0},{"c":"Netherlands","d":"2013-12","v":2.1},
{"c":"Netherlands","d":"2014-01","v":2.1},{"c":"Netherlands","d":"2014-02","v":2.0},{"c":"Netherlands","d":"2014-03","v":1.9},{"c":"Netherlands","d":"2014-04","v":1.7},{"c":"Netherlands","d":"2014-05","v":1.6},{"c":"Netherlands","d":"2014-06","v":1.5},{"c":"Netherlands","d":"2014-07","v":1.4},{"c":"Netherlands","d":"2014-08","v":1.1},{"c":"Netherlands","d":"2014-09","v":1.0},{"c":"Netherlands","d":"2014-10","v":0.9},{"c":"Netherlands","d":"2014-11","v":0.8},{"c":"Netherlands","d":"2014-12","v":0.7},
{"c":"Netherlands","d":"2015-01","v":0.5},{"c":"Netherlands","d":"2015-02","v":0.4},{"c":"Netherlands","d":"2015-03","v":0.3},{"c":"Netherlands","d":"2015-04","v":0.3},{"c":"Netherlands","d":"2015-05","v":0.6},{"c":"Netherlands","d":"2015-06","v":0.9},{"c":"Netherlands","d":"2015-07","v":0.9},{"c":"Netherlands","d":"2015-08","v":0.8},{"c":"Netherlands","d":"2015-09","v":0.8},{"c":"Netherlands","d":"2015-10","v":0.7},{"c":"Netherlands","d":"2015-11","v":0.7},{"c":"Netherlands","d":"2015-12","v":0.8},
{"c":"Netherlands","d":"2016-01","v":0.7},{"c":"Netherlands","d":"2016-02","v":0.5},{"c":"Netherlands","d":"2016-03","v":0.4},{"c":"Netherlands","d":"2016-04","v":0.4},{"c":"Netherlands","d":"2016-05","v":0.4},{"c":"Netherlands","d":"2016-06","v":0.3},{"c":"Netherlands","d":"2016-07","v":0.1},{"c":"Netherlands","d":"2016-08","v":0.1},{"c":"Netherlands","d":"2016-09","v":0.1},{"c":"Netherlands","d":"2016-10","v":0.2},{"c":"Netherlands","d":"2016-11","v":0.5},{"c":"Netherlands","d":"2016-12","v":0.5},
{"c":"Netherlands","d":"2017-01","v":0.6},{"c":"Netherlands","d":"2017-02","v":0.7},{"c":"Netherlands","d":"2017-03","v":0.7},{"c":"Netherlands","d":"2017-04","v":0.6},{"c":"Netherlands","d":"2017-05","v":0.6},{"c":"Netherlands","d":"2017-06","v":0.5},{"c":"Netherlands","d":"2017-07","v":0.7},{"c":"Netherlands","d":"2017-08","v":0.6},{"c":"Netherlands","d":"2017-09","v":0.5},{"c":"Netherlands","d":"2017-10","v":0.5},
{"c":"Germany","d":"2009-10","v":3.2},{"c":"Germany","d":"2009-11","v":3.3},{"c":"Germany","d":"2009-12","v":3.2},
{"c":"Germany","d":"2010-01","v":3.3},{"c":"Germany","d":"2010-02","v":3.2},{"c":"Germany","d":"2010-03","v":3.1},{"c":"Germany","d":"2010-04","v":3.1},{"c":"Germany","d":"2010-05","v":2.8},{"c":"Germany","d":"2010-06","v":2.6},{"c":"Germany","d":"2010-07","v":2.6},{"c":"Germany","d":"2010-08","v":2.3},{"c":"Germany","d":"2010-09","v":2.3},{"c":"Germany","d":"2010-10","v":2.4},{"c":"Germany","d":"2010-11","v":2.6},{"c":"Germany","d":"2010-12","v":2.9},
{"c":"Germany","d":"2011-01","v":3.0},{"c":"Germany","d":"2011-02","v":3.2},{"c":"Germany","d":"2011-03","v":3.2},{"c":"Germany","d":"2011-04","v":3.3},{"c":"Germany","d":"2011-05","v":3.1},{"c":"Germany","d":"2011-06","v":2.9},{"c":"Germany","d":"2011-07","v":2.7},{"c":"Germany","d":"2011-08","v":2.3},{"c":"Germany","d":"2011-09","v":1.9},{"c":"Germany","d":"2011-10","v":2.0},{"c":"Germany","d":"2011-11","v":1.9},{"c":"Germany","d":"2011-12","v":1.9},
{"c":"Germany","d":"2012-01","v":1.8},{"c":"Germany","d":"2012-02","v":1.8},{"c":"Germany","d":"2012-03","v":1.8},{"c":"Germany","d":"2012-04","v":1.7},{"c":"Germany","d":"2012-05","v":1.5},{"c":"Germany","d":"2012-06","v":1.4},{"c":"Germany","d":"2012-07","v":1.3},{"c":"Germany","d":"2012-08","v":1.4},{"c":"Germany","d":"2012-09","v":1.6},{"c":"Germany","d":"2012-10","v":1.5},{"c":"Germany","d":"2012-11","v":1.4},{"c":"Germany","d":"2012-12","v":1.3},
{"c":"Germany","d":"2013-01","v":1.5},{"c":"Germany","d":"2013-02","v":1.6},{"c":"Germany","d":"2013-03","v":1.4},{"c":"Germany","d":"2013-04","v":1.2},{"c":"Germany","d":"2013-05","v":1.3},{"c":"Germany","d":"2013-06","v":1.6},{"c":"Germany","d":"2013-07","v":1.6},{"c":"Germany","d":"2013-08","v":1.8},{"c":"Germany","d":"2013-09","v":1.9},{"c":"Germany","d":"2013-10","v":1.8},{"c":"Germany","d":"2013-11","v":1.7},{"c":"Germany","d":"2013-12","v":1.8},
{"c":"Germany","d":"2014-01","v":1.8},{"c":"Germany","d":"2014-02","v":1.6},{"c":"Germany","d":"2014-03","v":1.6},{"c":"Germany","d":"2014-04","v":1.5},{"c":"Germany","d":"2014-05","v":1.4},{"c":"Germany","d":"2014-06","v":1.3},{"c":"Germany","d":"2014-07","v":1.2},{"c":"Germany","d":"2014-08","v":1.0},{"c":"Germany","d":"2014-09","v":0.9},{"c":"Germany","d":"2014-10","v":0.8},{"c":"Germany","d":"2014-11","v":0.7},{"c":"Germany","d":"2014-12","v":0.6},
{"c":"Germany","d":"2015-01","v":0.4},{"c":"Germany","d":"2015-02","v":0.3},{"c":"Germany","d":"2015-03","v":0.2},{"c":"Germany","d":"2015-04","v":0.2},{"c":"Germany","d":"2015-05","v":0.5},{"c":"Germany","d":"2015-06","v":0.8},{"c":"Germany","d":"2015-07","v":0.8},{"c":"Germany","d":"2015-08","v":0.6},{"c":"Germany","d":"2015-09","v":0.6},{"c":"Germany","d":"2015-10","v":0.5},{"c":"Germany","d":"2015-11","v":0.5},{"c":"Germany","d":"2015-12","v":0.6},
{"c":"Germany","d":"2016-01","v":0.5},{"c":"Germany","d":"2016-02","v":0.2},{"c":"Germany","d":"2016-03","v":0.2},{"c":"Germany","d":"2016-04","v":0.1},{"c":"Germany","d":"2016-05","v":0.1},{"c":"Germany","d":"2016-06","v":0.05},{"c":"Germany","d":"2016-07","v":0.05},{"c":"Germany","d":"2016-08","v":0.05},{"c":"Germany","d":"2016-09","v":0.05},{"c":"Germany","d":"2016-10","v":0.05},{"c":"Germany","d":"2016-11","v":0.2},{"c":"Germany","d":"2016-12","v":0.3},
{"c":"Germany","d":"2017-01","v":0.2},{"c":"Germany","d":"2017-02","v":0.2},{"c":"Germany","d":"2017-03","v":0.3},{"c":"Germany","d":"2017-04","v":0.2},{"c":"Germany","d":"2017-05","v":0.3},{"c":"Germany","d":"2017-06","v":0.3},{"c":"Germany","d":"2017-07","v":0.5},{"c":"Germany","d":"2017-08","v":0.4},{"c":"Germany","d":"2017-09","v":0.4},{"c":"Germany","d":"2017-10","v":0.4}
]},
"mark":{"type":"line","strokeWidth":3.2,"invalid":"break-paths-show-domains","clip":true},
"encoding":{
"x":{"field":"d","type":"temporal","title":null,"scale":{"type":"utc","domain":[{"year":2009,"month":5,"date":15,"utc":true},{"year":2017,"month":12,"date":1,"utc":true}]},
"axis":{"values":[{"year":2009,"month":10,"date":1,"utc":true},{"year":2010,"month":4,"date":1,"utc":true},{"year":2010,"month":10,"date":1,"utc":true},{"year":2011,"month":4,"date":1,"utc":true},{"year":2011,"month":10,"date":1,"utc":true},{"year":2012,"month":4,"date":1,"utc":true},{"year":2012,"month":10,"date":1,"utc":true},{"year":2013,"month":4,"date":1,"utc":true},{"year":2013,"month":10,"date":1,"utc":true},{"year":2014,"month":4,"date":1,"utc":true},{"year":2014,"month":10,"date":1,"utc":true},{"year":2015,"month":4,"date":1,"utc":true},{"year":2015,"month":10,"date":1,"utc":true},{"year":2016,"month":4,"date":1,"utc":true},{"year":2016,"month":10,"date":1,"utc":true},{"year":2017,"month":4,"date":1,"utc":true},{"year":2017,"month":10,"date":1,"utc":true}],
"labelExpr":"utcFormat(datum.value, '%b. %y')","labelAngle":270,"labelAlign":"right","labelBaseline":"middle","labelFontSize":14,"labelColor":"#333","labelPadding":8,"labelOverlap":false,"labelFont":"DejaVu Sans","domainColor":"#8a8a8a","domainWidth":2.5,"ticks":false,"grid":false}},
"y":{"field":"v","type":"quantitative","title":null,"scale":{"domain":[0,30],"nice":false},
"axis":{"values":[3,6,9,12,15,18,21,24,27,30],"labelExpr":"datum.value + '%'","grid":true,"gridColor":"#d4d4d4","gridWidth":1.5,"domain":false,"ticks":false,"labelFontSize":16,"labelColor":"#333","labelPadding":8,"labelFont":"DejaVu Sans"}},
"color":{"field":"c","type":"nominal","scale":{"domain":["Greece","Portugal","Italy","Cyprus","Cyprus (real)*","Spain","Malta","Slovenia","Slovakia","France","Belgium","Ireland","Austria","Finland","Luxembourg","Netherlands","Germany"],"range":["#79b3e3","#9a3fd0","#2c5d8a","#c8862d","#c8862d","#a0a0a0","#4d7cbf","#2b5b1e","#7fcf3f","#d1534f","#a05cc4","#7b7b7b","#7ea6da","#95c77c","#f4c97c","#d45c62","#e3a447"]},
"legend":{"orient":"none","legendX":495,"legendY":119,"title":"Source: ECB","titleOrient":"bottom","titlePadding":75,"titleFontSize":17,"titleFontWeight":"normal","titleColor":"#333","titleAnchor":"start","titleFont":"DejaVu Sans","labelFontSize":19,"labelColor":"#333","labelFont":"DejaVu Sans","symbolType":"stroke","symbolSize":484,"symbolStrokeWidth":3,"rowPadding":0,"labelOffset":13,"padding":0,"labelLimit":220}},
"strokeDash":{"field":"c","type":"nominal","scale":{"domain":["Greece","Portugal","Italy","Cyprus","Cyprus (real)*","Spain","Malta","Slovenia","Slovakia","France","Belgium","Ireland","Austria","Finland","Luxembourg","Netherlands","Germany"],"range":[[1,0],[1,0],[1,0],[1,0],[5,5],[1,0],[1,0],[1,0],[1,0],[1,0],[1,0],[1,0],[1,0],[1,0],[1,0],[1,0],[1,0]]},
"legend":{"orient":"none","legendX":495,"legendY":119,"title":"Source: ECB","titleOrient":"bottom","titlePadding":75,"titleFontSize":17,"titleFontWeight":"normal","titleColor":"#333","titleAnchor":"start","titleFont":"DejaVu Sans","labelFontSize":19,"labelColor":"#333","labelFont":"DejaVu Sans","symbolType":"stroke","symbolSize":484,"symbolStrokeWidth":3,"rowPadding":0,"labelOffset":13,"padding":0,"labelLimit":220}}
}}
